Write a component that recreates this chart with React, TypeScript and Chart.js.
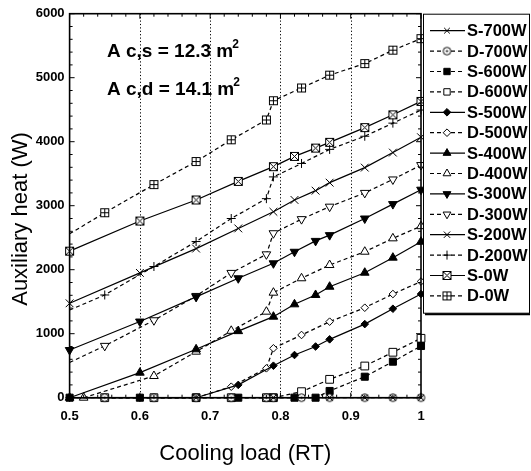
import React, { useEffect, useRef } from 'react';
import { Chart, registerables } from 'chart.js';

Chart.register(...registerables);

// ---------- data ----------
const xS = [0.5, 0.6, 0.68, 0.74, 0.79, 0.82, 0.85, 0.87, 0.92, 0.96, 1.0];
const xD = [0.55, 0.62, 0.68, 0.73, 0.78, 0.79, 0.83, 0.87, 0.92, 0.96, 1.0];
const xD0 = [0.5, 0.55, 0.62, 0.68, 0.73, 0.78, 0.79, 0.83, 0.87, 0.92, 0.96, 1.0];
const xD400 = [0.52, 0.62, 0.68, 0.73, 0.78, 0.79, 0.83, 0.87, 0.92, 0.96, 1.0];

const s700 = [0, 0, 0, 0, 0, 0, 0, 0, 0, 0, 0];
const d700 = [0, 0, 0, 0, 0, 0, 0, 0, 0, 0, 0];
const s600 = [0, 0, 0, 0, 0, 0, 0, 105, 328, 563, 808];
const d600 = [0, 0, 0, 0, 0, 0, 94, 287, 495, 710, 928];
const s500 = [0, 0, 0, 200, 500, 667, 800, 912, 1150, 1390, 1620];
const d500 = [0, 0, 0, 172, 459, 772, 980, 1188, 1406, 1620, 1815];
const s400 = [0, 391, 756, 1040, 1266, 1459, 1605, 1734, 1953, 2188, 2438];
const d400 = [0, 339, 719, 1045, 1344, 1641, 1866, 2073, 2281, 2490, 2680];
const s300 = [745, 1190, 1575, 1866, 2100, 2280, 2450, 2540, 2800, 3025, 3250];
const d300 = [550, 810, 1210, 1590, 1950, 2240, 2570, 2790, 2985, 3200, 3410, 3635];
const s200 = [1475, 1950, 2330, 2645, 2905, 3090, 3235, 3360, 3595, 3830, 4070];
const d200 = [1370, 1605, 2050, 2440, 2800, 3110, 3450, 3660, 3880, 4085, 4290, 4495];
const s0 = [2290, 2760, 3090, 3380, 3610, 3770, 3900, 3990, 4220, 4420, 4630];
const d0 = [2560, 2890, 3330, 3690, 4030, 4340, 4640, 4840, 5040, 5220, 5430, 5610];

const xTicks = [0.5, 0.6, 0.7, 0.8, 0.9, 1.0];
const yTicks = [0, 1000, 2000, 3000, 4000, 5000, 6000];

const X_TITLE = 'Cooling load (RT)';
const Y_TITLE = 'Auxiliary heat (W)';

const FONT = "'Liberation Sans', Arial, Helvetica, sans-serif";

function makeBoxMarker(kind: string): HTMLCanvasElement {
  const c = document.createElement('canvas');
  c.width = 11;
  c.height = 11;
  const g = c.getContext('2d')!;
  g.fillStyle = '#fff';
  g.strokeStyle = '#000';
  g.lineWidth = 1;
  if (kind === 'circdot') {
    g.beginPath();
    g.arc(5.5, 5.5, 3.8, 0, Math.PI * 2);
    g.fill();
    g.stroke();
    g.fillStyle = '#000';
    g.beginPath();
    g.arc(5.5, 5.5, 1.1, 0, Math.PI * 2);
    g.fill();
    return c;
  }
  g.fillRect(1.5, 1.5, 8, 8);
  g.strokeRect(1.5, 1.5, 8, 8);
  g.beginPath();
  if (kind === 'plus') {
    g.moveTo(5.5, 1.5); g.lineTo(5.5, 9.5);
    g.moveTo(1.5, 5.5); g.lineTo(9.5, 5.5);
  } else {
    g.moveTo(1.5, 1.5); g.lineTo(9.5, 9.5);
    g.moveTo(9.5, 1.5); g.lineTo(1.5, 9.5);
  }
  g.stroke();
  return c;
}

type Spec = {
  label: string; xs: number[]; ys: number[]; dashed: boolean;
  style: any; filled: boolean; rot: number; r: number; hideFirst?: boolean;
};

function drawMarker(ctx: CanvasRenderingContext2D, s: Spec, x: number, y: number) {
  ctx.save();
  ctx.translate(x, y);
  ctx.lineWidth = 1;
  ctx.setLineDash([]);
  ctx.strokeStyle = '#000';
  ctx.fillStyle = s.filled ? '#000' : '#fff';
  if (s.style instanceof HTMLCanvasElement) {
    ctx.drawImage(s.style, -s.style.width / 2, -s.style.height / 2);
    ctx.restore();
    return;
  }
  ctx.rotate((s.rot * Math.PI) / 180);
  const r = s.r;
  ctx.beginPath();
  switch (s.style) {
    case 'circle':
      ctx.arc(0, 0, r, 0, Math.PI * 2);
      ctx.fill(); ctx.stroke();
      break;
    case 'rect': {
      const h = r * Math.SQRT1_2;
      ctx.rect(-h, -h, 2 * h, 2 * h);
      ctx.fill(); ctx.stroke();
      break;
    }
    case 'rectRot':
      ctx.moveTo(0, -r); ctx.lineTo(r, 0); ctx.lineTo(0, r); ctx.lineTo(-r, 0); ctx.closePath();
      ctx.fill(); ctx.stroke();
      break;
    case 'triangle': {
      const k = Math.sin((2 * Math.PI) / 3);
      ctx.moveTo(0, -r);
      ctx.lineTo(r * k, r * 0.5);
      ctx.lineTo(-r * k, r * 0.5);
      ctx.closePath();
      ctx.fill(); ctx.stroke();
      break;
    }
    case 'crossRot': {
      const h = r * Math.SQRT1_2;
      ctx.moveTo(-h, -h); ctx.lineTo(h, h);
      ctx.moveTo(h, -h); ctx.lineTo(-h, h);
      ctx.stroke();
      break;
    }
    case 'cross':
      ctx.moveTo(0, -r); ctx.lineTo(0, r);
      ctx.moveTo(-r, 0); ctx.lineTo(r, 0);
      ctx.stroke();
      break;
  }
  ctx.restore();
}

export default function App() {
  const ref = useRef<HTMLCanvasElement>(null);

  useEffect(() => {
    const boxPlus = makeBoxMarker('plus');
    const boxX = makeBoxMarker('x');
    const circDot = makeBoxMarker('circdot');

    const specs: Spec[] = [
      { label: 'S-700W', xs: xS, ys: s700, dashed: false, style: 'crossRot', filled: false, rot: 0, r: 4 },
      { label: 'D-700W', xs: xD, ys: d700, dashed: true, style: circDot, filled: false, rot: 0, r: 4 },
      { label: 'S-600W', xs: xS, ys: s600, dashed: true, style: 'rect', filled: true, rot: 0, r: 5 },
      { label: 'D-600W', xs: xD, ys: d600, dashed: true, style: 'rect', filled: false, rot: 0, r: 5.5 },
      { label: 'S-500W', xs: xS, ys: s500, dashed: false, style: 'rectRot', filled: true, rot: 0, r: 3.8 },
      { label: 'D-500W', xs: xD, ys: d500, dashed: true, style: 'rectRot', filled: false, rot: 0, r: 3.8 },
      { label: 'S-400W', xs: xS, ys: s400, dashed: false, style: 'triangle', filled: true, rot: 0, r: 5 },
      { label: 'D-400W', xs: xD400, ys: d400, dashed: true, style: 'triangle', filled: false, rot: 0, r: 5 },
      { label: 'S-300W', xs: xS, ys: s300, dashed: false, style: 'triangle', filled: true, rot: 180, r: 5 },
      { label: 'D-300W', xs: xD0, ys: d300, dashed: true, style: 'triangle', filled: false, rot: 180, r: 5, hideFirst: true },
      { label: 'S-200W', xs: xS, ys: s200, dashed: false, style: 'crossRot', filled: false, rot: 0, r: 5.5 },
      { label: 'D-200W', xs: xD0, ys: d200, dashed: true, style: 'cross', filled: false, rot: 0, r: 4.5, hideFirst: true },
      { label: 'S-0W', xs: xS, ys: s0, dashed: false, style: boxX, filled: false, rot: 0, r: 5 },
      { label: 'D-0W', xs: xD0, ys: d0, dashed: true, style: boxPlus, filled: false, rot: 0, r: 5, hideFirst: true },
    ];

    const datasets = specs.map((s) => ({
      label: s.label,
      data: s.xs.map((x, i) => ({ x, y: s.ys[i] })),
      borderColor: '#000',
      borderWidth: 1.2,
      borderDash: s.dashed ? [4, 3] : [],
      pointStyle: s.style,
      rotation: s.rot,
      pointRotation: s.rot,
      pointRadius: s.hideFirst ? s.xs.map((_, i) => (i === 0 ? 0 : s.r)) : s.r,
      pointBackgroundColor: s.filled ? '#000' : '#fff',
      pointBorderColor: '#000',
      pointBorderWidth: 1,
      tension: 0,
      clip: false as any,
      fill: false,
    }));

    const deco = {
      id: 'deco',
      beforeDatasetsDraw(chart: any) {
        const { ctx, chartArea: a, scales } = chart;
        ctx.save();
        ctx.strokeStyle = '#000';
        ctx.lineWidth = 1;
        ctx.setLineDash([1.2, 2.2]);
        [0.6, 0.7, 0.8, 0.9].forEach((v) => {
          const px = Math.round(scales.x.getPixelForValue(v)) + 0.5;
          ctx.beginPath();
          ctx.moveTo(px, a.top);
          ctx.lineTo(px, a.bottom);
          ctx.stroke();
        });
        ctx.restore();
      },
      afterDatasetsDraw(chart: any) {
        const { ctx, chartArea: a, scales } = chart;
        ctx.save();
        ctx.setLineDash([]);
        ctx.strokeStyle = '#000';
        // ticks
        ctx.lineWidth = 1;
        ctx.beginPath();
        for (let i = 0; i <= 25; i++) {
          const v = 0.5 + i * 0.02;
          const px = scales.x.getPixelForValue(v);
          const len = i % 5 === 0 ? 5 : 3;
          ctx.moveTo(px, a.bottom); ctx.lineTo(px, a.bottom - len);
          ctx.moveTo(px, a.top); ctx.lineTo(px, a.top + len);
        }
        for (let i = 0; i <= 30; i++) {
          const v = i * 200;
          const py = scales.y.getPixelForValue(v);
          const len = i % 5 === 0 ? 5 : 3;
          ctx.moveTo(a.left, py); ctx.lineTo(a.left + len, py);
          ctx.moveTo(a.right, py); ctx.lineTo(a.right - len, py);
        }
        ctx.stroke();
        // frame
        ctx.lineWidth = 1.6;
        ctx.strokeRect(a.left, a.top, a.right - a.left, a.bottom - a.top);

        // axis titles
        ctx.fillStyle = '#000';
        ctx.font = `22px ${FONT}`;
        ctx.textAlign = 'center';
        ctx.textBaseline = 'alphabetic';
        ctx.fillText(X_TITLE, (a.left + a.right) / 2, 460);
        ctx.save();
        ctx.translate(27, 219);
        ctx.rotate(-Math.PI / 2);
        ctx.fillText(Y_TITLE, 0, 0);
        ctx.restore();

        // annotations
        ctx.textAlign = 'left';
        const lines = ['A c,s = 12.3 m', 'A c,d = 14.1 m'];
        const bases = [57, 95];
        lines.forEach((t, i) => {
          ctx.font = `bold 19px ${FONT}`;
          ctx.fillText(t, 107, bases[i]);
          const w = ctx.measureText(t).width;
          ctx.font = `bold 12px ${FONT}`;
          ctx.fillText('2', 107 + w - 1, bases[i] - 9);
        });

        // legend
        const lx = a.right + 2;
        const ly = a.top;
        const lw = 530 - lx;
        const lh = 300;
        ctx.fillStyle = '#fff';
        ctx.fillRect(lx, ly, lw, lh);
        ctx.lineWidth = 1;
        ctx.strokeRect(lx + 0.5, ly + 0.5, lw - 1, lh - 1);
        ctx.lineWidth = 2;
        ctx.beginPath();
        ctx.moveTo(lx + 2, ly + lh + 0.5);
        ctx.lineTo(lx + lw, ly + lh + 0.5);
        ctx.stroke();
        specs.forEach((s, i) => {
          const cy = ly + 17 + i * 20.4;
          ctx.lineWidth = 1.2;
          ctx.setLineDash(s.dashed ? [4, 3] : []);
          ctx.beginPath();
          ctx.moveTo(lx + 7, cy);
          ctx.lineTo(lx + 42, cy);
          ctx.stroke();
          ctx.setLineDash([]);
          drawMarker(ctx, { ...s, r: Math.min(s.r, 4.5) }, lx + 24, cy);
          ctx.fillStyle = '#000';
          ctx.font = `bold 16.5px ${FONT}`;
          ctx.textBaseline = 'middle';
          ctx.fillText(s.label, lx + 44, cy + 1);
        });
        ctx.restore();
      },
    };

    const chart = new Chart(ref.current!, {
      type: 'line',
      data: { datasets: datasets as any },
      options: {
        responsive: false,
        animation: false,
        events: [],
        layout: { padding: { left: 0, right: 110, top: 13.7, bottom: 0 } },
        plugins: { legend: { display: false }, tooltip: { enabled: false } },
        scales: {
          x: {
            type: 'linear',
            min: 0.5,
            max: 1,
            afterBuildTicks: (s: any) => { s.ticks = xTicks.map((v) => ({ value: v })); },
            ticks: {
              color: '#000',
              font: { family: FONT, size: 13, weight: 'bold' },
              padding: 11,
              maxRotation: 0,
              callback: (v: any) => (Math.abs(v - 1) < 1e-9 ? '1' : Number(v).toFixed(1)),
            },
            grid: { display: false, drawTicks: false },
            border: { display: false },
            title: { display: false },
            afterFit: (s: any) => { s.height = 73.3; },
          },
          y: {
            type: 'linear',
            min: 0,
            max: 6000,
            afterBuildTicks: (s: any) => { s.ticks = yTicks.map((v) => ({ value: v })); },
            ticks: {
              color: '#000',
              font: { family: FONT, size: 13, weight: 'bold' },
              padding: 5,
              callback: (v: any) => String(Math.round(Number(v))),
            },
            grid: { display: false, drawTicks: false },
            border: { display: false },
            title: { display: false },
            afterFit: (s: any) => { s.width = 69.6; },
          },
        },
      } as any,
      plugins: [deco],
    });
    return () => chart.destroy();
  }, []);

  return (
    <div style={{ position: 'fixed', left: 0, top: 0, width: 531, height: 471, background: '#fff' }}>
      <canvas ref={ref} width={531} height={471} style={{ display: 'block' }} />
    </div>
  );
}
